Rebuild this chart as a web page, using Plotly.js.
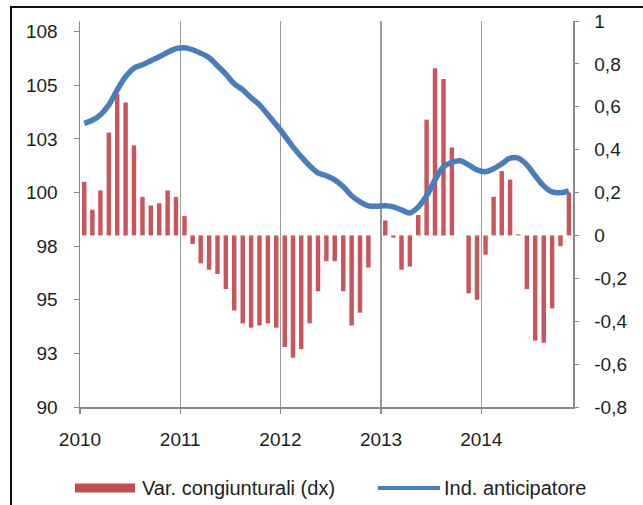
<!DOCTYPE html>
<html>
<head>
<meta charset="utf-8">
<script src="https://cdn.plot.ly/plotly-3.0.1.min.js"></script>
<style>
  html, body { margin: 0; padding: 0; background: #fff; }
  #wrap { position: relative; width: 643px; height: 505px; }
  #chart { width: 643px; height: 505px; }
  #frame { position: absolute; left: 10px; top: 6px; right: 0; bottom: 0;
           border-left: 2px solid #111; border-top: 2px solid #111; pointer-events: none; }
</style>
</head>
<body>
<div id="wrap">
  <div id="chart"></div>
  <div id="frame"></div>
</div>
<script>
// Months (Jan 2010 - Nov 2014)
const months = [
  '2010-01','2010-02','2010-03','2010-04','2010-05','2010-06','2010-07','2010-08','2010-09','2010-10','2010-11','2010-12',
  '2011-01','2011-02','2011-03','2011-04','2011-05','2011-06','2011-07','2011-08','2011-09','2011-10','2011-11','2011-12',
  '2012-01','2012-02','2012-03','2012-04','2012-05','2012-06','2012-07','2012-08','2012-09','2012-10','2012-11','2012-12',
  '2013-01','2013-02','2013-03','2013-04','2013-05','2013-06','2013-07','2013-08','2013-09','2013-10','2013-11','2013-12',
  '2014-01','2014-02','2014-03','2014-04','2014-05','2014-06','2014-07','2014-08','2014-09','2014-10','2014-11'
];

// Var. congiunturali (dx) - right axis
const varCongiunturali = [
  0.25, 0.12, 0.21, 0.48, 0.66, 0.62, 0.42, 0.18, 0.14, 0.15, 0.21, 0.18,
  0.09, -0.04, -0.13, -0.16, -0.18, -0.25, -0.35, -0.41, -0.43, -0.42, -0.41, -0.43,
  -0.52, -0.57, -0.53, -0.41, -0.26, -0.12, -0.12, -0.26, -0.42, -0.36, -0.15, 0.00,
  0.07, -0.01, -0.16, -0.145, 0.095, 0.54, 0.78, 0.73, 0.41, 0.00, -0.27, -0.30,
  -0.09, 0.18, 0.30, 0.26, 0.005, -0.25, -0.49, -0.50, -0.34, -0.05, 0.20
];

// Ind. anticipatore - left axis
const indAnticipatore = [
  103.23, 103.37, 103.63, 104.09, 104.79, 105.40, 105.80, 105.96, 106.15, 106.33, 106.54, 106.71,
  106.75, 106.66, 106.50, 106.29, 105.91, 105.52, 105.07, 104.79, 104.42, 104.09, 103.63, 103.16,
  102.65, 102.13, 101.67, 101.25, 100.92, 100.78, 100.59, 100.27, 99.85, 99.57, 99.38, 99.36,
  99.38, 99.33, 99.19, 99.05, 99.33, 99.85, 100.59, 101.20, 101.41, 101.48, 101.29, 101.06,
  100.97, 101.11, 101.34, 101.60, 101.60, 101.29, 100.78, 100.31, 100.03, 99.99, 100.08
];

const leftTickVals = [90, 92.5, 95, 97.5, 100, 102.5, 105, 107.5];
const leftTickText = ['90', '93', '95', '98', '100', '103', '105', '108'];
const rightTickVals = [-0.8, -0.6, -0.4, -0.2, 0, 0.2, 0.4, 0.6, 0.8, 1];
const rightTickText = ['-0,8', '-0,6', '-0,4', '-0,2', '0', '0,2', '0,4', '0,6', '0,8', '1'];

const barName = 'Var. congiunturali (dx)';
const lineName = 'Ind. anticipatore';

const FONT = 'Liberation Sans, Arial, sans-serif';
const TXT = '#1e1e1e';
const axisGrey = '#8a8a8a';
const barColor = '#C9565D';
const lineColor = '#4A7EBB';

const W = 643, H = 505;
const M = { l: 80, r: 70, t: 21, b: 98 };
const plotW = W - M.l - M.r, plotH = H - M.t - M.b;
// helpers converting pixel positions (outside the plot area) to paper coords for the legend
const px = v => (v - M.l) / plotW;
const py = v => (H - M.b - v) / plotH;

const traces = [
  {
    type: 'bar', x: months, y: varCongiunturali, name: barName,
    xperiod: 'M1', xperiodalignment: 'middle',
    marker: { color: barColor, line: { width: 0 } },
    yaxis: 'y', hoverinfo: 'x+y'
  },
  {
    type: 'scatter', mode: 'lines', x: months, y: indAnticipatore, name: lineName,
    xperiod: 'M1', xperiodalignment: 'middle',
    line: { color: lineColor, width: 5.5, shape: 'spline', smoothing: 1 },
    yaxis: 'y2'
  }
];

const legendY = 488;
const layout = {
  width: W, height: H,
  margin: { l: M.l, r: M.r, t: M.t, b: M.b, pad: 0 },
  paper_bgcolor: '#ffffff', plot_bgcolor: '#ffffff',
  font: { family: FONT, size: 19, color: TXT },
  bargap: 0.45,
  showlegend: false,
  shapes: [
    { type: 'rect', xref: 'paper', yref: 'paper',
      x0: px(75), x1: px(135), y0: py(legendY - 4.5), y1: py(legendY + 4.5),
      fillcolor: '#C0504D', line: { width: 0 } },
    { type: 'line', xref: 'paper', yref: 'paper',
      x0: px(378), x1: px(440), y0: py(legendY), y1: py(legendY),
      line: { color: lineColor, width: 4 } }
  ],
  annotations: [
    { xref: 'paper', yref: 'paper', x: px(140), y: py(legendY), xanchor: 'left', yanchor: 'middle',
      text: barName, showarrow: false, font: { family: FONT, size: 20, color: TXT } },
    { xref: 'paper', yref: 'paper', x: px(442), y: py(legendY), xanchor: 'left', yanchor: 'middle',
      text: lineName, showarrow: false, font: { family: FONT, size: 20, color: TXT } }
  ],
  xaxis: {
    type: 'date', range: ['2010-01-01', '2014-12-01'],
    tick0: '2010-01-01', dtick: 'M12', tickformat: '%Y',
    showgrid: true, gridcolor: '#9a9a9a', gridwidth: 1.5,
    showline: true, linecolor: axisGrey, linewidth: 1.5,
    ticks: 'outside', ticklen: 5, tickcolor: axisGrey, tickwidth: 1.5,
    ticklabelstandoff: 10,
    tickfont: { family: FONT, size: 19, color: TXT },
    zeroline: false, fixedrange: true
  },
  yaxis: {
    side: 'right', range: [-0.8, 1],
    tickmode: 'array', tickvals: rightTickVals, ticktext: rightTickText,
    showgrid: false, zeroline: false,
    showline: true, linecolor: axisGrey, linewidth: 1.5,
    ticks: 'outside', ticklen: 4, tickcolor: axisGrey, tickwidth: 1,
    ticklabelstandoff: 12,
    tickfont: { family: FONT, size: 19, color: TXT },
    fixedrange: true
  },
  yaxis2: {
    side: 'left', overlaying: 'y', range: [90, 108],
    tickmode: 'array', tickvals: leftTickVals, ticktext: leftTickText,
    showgrid: false, zeroline: false,
    showline: true, linecolor: axisGrey, linewidth: 1.5,
    ticks: 'outside', ticklen: 5, tickcolor: axisGrey, tickwidth: 1,
    ticklabelstandoff: 12,
    tickfont: { family: FONT, size: 19, color: TXT },
    fixedrange: true
  }
};

Plotly.newPlot('chart', traces, layout, { displayModeBar: false, staticPlot: true });
</script>
</body>
</html>
